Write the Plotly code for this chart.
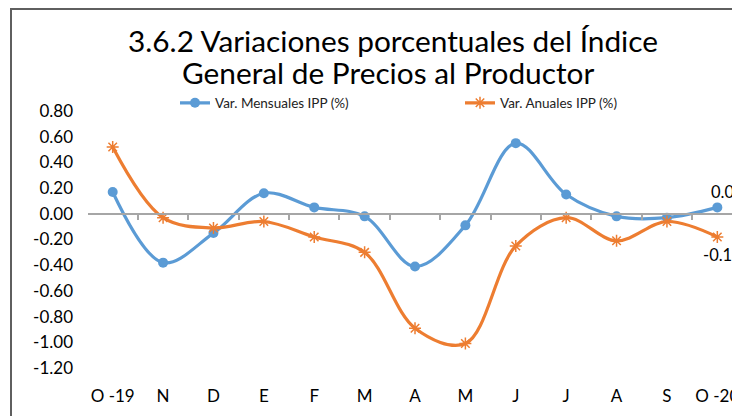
import plotly.graph_objects as go

categories = ["O -19", "N", "D", "E", "F", "M", "A", "M", "J", "J", "A", "S", "O -20"]
mensuales = [0.17, -0.38, -0.15, 0.16, 0.05, -0.02, -0.41, -0.09, 0.55, 0.15, -0.02, -0.03, 0.05]
anuales = [0.52, -0.03, -0.11, -0.06, -0.18, -0.30, -0.89, -1.01, -0.25, -0.03, -0.21, -0.06, -0.18]
y_ticks = [0.80, 0.60, 0.40, 0.20, 0.00, -0.20, -0.40, -0.60, -0.80, -1.00, -1.20]
title_lines = ["3.6.2 Variaciones porcentuales del Índice", "General de Precios al Productor"]

BLUE = "#5B9BD5"
ORANGE = "#ED7D31"
FONT = "Lato"

# the page body adds an 8px offset; figure coordinates = screen - OFF
OFF = 8
W_FIG, H_FIG = 740 - OFF, 416 - OFF
L, T = 88 - OFF, 111 - OFF
B = 48
R = 0
PW = W_FIG - L - R
PH = H_FIG - T - B

def px_x(p):  # screen px -> paper x
    return (p - OFF - L) / PW

def px_y(p):  # screen px -> paper y
    return (T + PH - (p - OFF)) / PH

idx = list(range(len(categories)))
ymin, ymax = -1.2, 0.8
xr = [-0.49, 12.45]

fig = go.Figure()
fig.add_trace(go.Scatter(
    x=idx, y=mensuales, name="Var. Mensuales IPP (%)",
    mode="lines+markers", legend="legend",
    line=dict(color=BLUE, width=3.2, shape="spline", smoothing=1.0),
    marker=dict(symbol="circle", size=10, color=BLUE),
    cliponaxis=False,
))
fig.add_trace(go.Scatter(
    x=idx, y=anuales, name="Var. Anuales IPP (%)",
    mode="lines+markers", legend="legend2",
    line=dict(color=ORANGE, width=3.2, shape="spline", smoothing=1.0),
    marker=dict(symbol="asterisk-open", size=10, color=ORANGE, line=dict(color=ORANGE, width=1.5)),
    cliponaxis=False,
))
# invisible trace for the zero-position axis with boundary ticks
fig.add_trace(go.Scatter(x=[0], y=[0], xaxis="x2", yaxis="y", mode="markers",
                         marker=dict(opacity=0), showlegend=False, hoverinfo="skip"))

last = len(categories) - 1
fig.add_annotation(x=last, y=mensuales[last], xref="x", yref="y",
                   text=f"{mensuales[last]:.2f}", showarrow=False,
                   xanchor="left", yanchor="middle", xshift=-8, yshift=15,
                   font=dict(family=FONT, size=16.5, color="#000"))
fig.add_annotation(x=last, y=anuales[last], xref="x", yref="y",
                   text=f"{anuales[last]:.2f}", showarrow=False,
                   xanchor="left", yanchor="middle", xshift=-16, yshift=-18,
                   font=dict(family=FONT, size=16.5, color="#000"))

fig.add_annotation(x=px_x(392.5), y=px_y(40), xref="paper", yref="paper",
                   text=title_lines[0], showarrow=False, xanchor="center", yanchor="middle",
                   font=dict(family=FONT, size=29.8, color="#000"))
fig.add_annotation(x=px_x(388), y=px_y(72), xref="paper", yref="paper",
                   text=title_lines[1], showarrow=False, xanchor="center", yanchor="middle",
                   font=dict(family=FONT, size=29.8, color="#000"))

# frame (cropped chart border)
fig.add_shape(type="line", xref="paper", yref="paper",
              x0=px_x(11), x1=px_x(11), y0=px_y(9), y1=px_y(430),
              line=dict(color="#5f5f5f", width=2))
fig.add_shape(type="line", xref="paper", yref="paper",
              x0=px_x(10), x1=px_x(760), y0=px_y(9), y1=px_y(9),
              line=dict(color="#5f5f5f", width=2))

legend_common = dict(orientation="h", xanchor="left", yanchor="middle",
                     font=dict(family=FONT, size=13.5, color="#222"),
                     bgcolor="rgba(0,0,0,0)", itemwidth=30)

fig.update_layout(
    width=W_FIG, height=H_FIG,
    margin=dict(l=L, r=R, t=T, b=B, pad=0, autoexpand=False),
    paper_bgcolor="white", plot_bgcolor="white",
    showlegend=True,
    legend=dict(x=px_x(175), y=px_y(103), **legend_common),
    legend2=dict(x=px_x(460), y=px_y(103), **legend_common),
    xaxis=dict(
        range=xr, tickmode="array", tickvals=idx, ticktext=categories,
        showgrid=False, zeroline=False, showline=False, ticks="",
        tickfont=dict(family=FONT, size=17, color="#000"),
        ticklabelstandoff=16,
    ),
    xaxis2=dict(
        overlaying="x", anchor="free", position=(0 - ymin) / (ymax - ymin),
        range=xr, tickmode="linear", tick0=-0.5, dtick=1,
        showline=True, linecolor="#a6a6a6", linewidth=1.5,
        ticks="outside", ticklen=5, tickcolor="#a6a6a6", tickwidth=1.5,
        showticklabels=False, showgrid=False, zeroline=False, side="bottom",
    ),
    yaxis=dict(
        range=[ymin, ymax], tickmode="array", tickvals=y_ticks,
        ticktext=[f"{v:.2f}" for v in y_ticks],
        showgrid=False, zeroline=False, showline=False, ticks="",
        tickfont=dict(family=FONT, size=17, color="#000"),
        ticklabelstandoff=14,
    ),
)

fig.write_html("out.html")
